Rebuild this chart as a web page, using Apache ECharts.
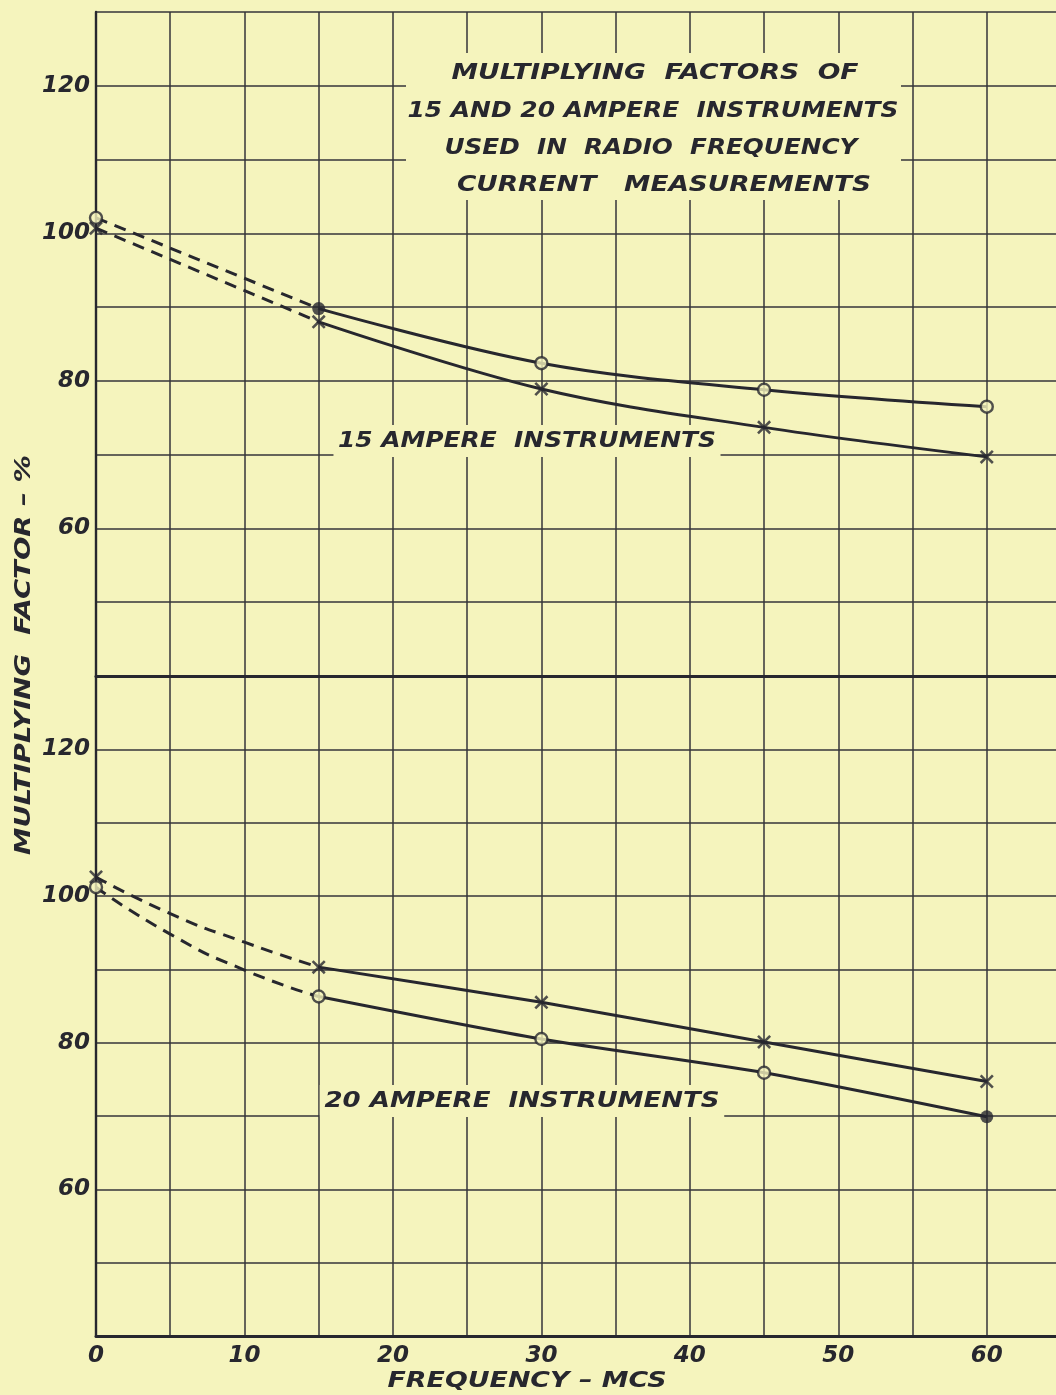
<!DOCTYPE html>
<html>
<head>
<meta charset="utf-8">
<script src="https://cdn.jsdelivr.net/npm/echarts@6/dist/echarts.min.js"></script>
<style>
  html, body { margin: 0; padding: 0; background: #f5f4bd; }
  #chart { width: 1056px; height: 1395px; }
</style>
</head>
<body>
<div id="chart"></div>
<script>
// Frequencies (Mc/s) at which the instruments were measured
const freqMeasured = [15, 30, 45, 60];
// Extrapolated region down to zero frequency
const freqLow = [0, 15];
const freqLowCurve = [0, 5, 10, 15];

// 15 ampere instruments (percent)
const amp15CircleLow = [102.1, 89.8];
const amp15Circle = [89.8, 82.4, 78.8, 76.5];
const amp15CrossLow = [100.7, 88.0];
const amp15Cross = [88.0, 78.9, 73.7, 69.7];

// 20 ampere instruments (percent)
const amp20CrossLow = [102.6, 97.6, 93.7, 90.3];
const amp20Cross = [90.3, 85.5, 80.1, 74.7];
const amp20CircleLow = [101.2, 94.8, 89.9, 86.3];
const amp20Circle = [86.3, 80.5, 75.9, 69.9];

// Labelled ticks
const yTickLabels = [60, 80, 100, 120];
const xTickLabels = [0, 10, 20, 30, 40, 50, 60];

// Text
const titleLines = [
  'MULTIPLYING  FACTORS  OF',
  '15 AND 20 AMPERE  INSTRUMENTS',
  'USED  IN  RADIO  FREQUENCY',
  'CURRENT   MEASUREMENTS'
];
const label15 = '15 AMPERE  INSTRUMENTS';
const label20 = '20 AMPERE  INSTRUMENTS';
const yName = 'MULTIPLYING  FACTOR – %';
const xName = 'FREQUENCY – MCS';

const PAPER = '#f5f4bd';
const INK = '#27272e';
const GRIDINK = '#34343a';
const FONT = '"DejaVu Sans", "Liberation Sans", sans-serif';

const chart = echarts.init(document.getElementById('chart'), null, { renderer: 'canvas' });

const pairs = (xs, ys) => xs.map((x, i) => [x, ys[i]]);

// Measure a string so lettering can be stretched to a given width
const measureCtx = document.createElement('canvas').getContext('2d');
function stretchFor(text, size, target) {
  measureCtx.font = 'italic bold ' + size + 'px ' + FONT;
  return target / measureCtx.measureText(text).width;
}

const crossPath = 'path://M0,1.3 L1.3,0 L5,3.7 L8.7,0 L10,1.3 L6.3,5 L10,8.7 L8.7,10 L5,6.3 L1.3,10 L0,8.7 L3.7,5 Z';

function yAxis(gridIndex) {
  return {
    type: 'value', gridIndex, min: 40, max: 130, interval: 10,
    axisLine: { show: true, lineStyle: { color: INK, width: 2.4 } },
    axisTick: { show: false },
    splitLine: { show: true, lineStyle: { color: GRIDINK, width: 1.5 } },
    axisLabel: {
      margin: 6, color: INK, fontSize: 23, fontStyle: 'italic', fontWeight: 'bold', fontFamily: FONT,
      formatter: v => (yTickLabels.includes(v) ? String(v) : '')
    }
  };
}
function xAxis(gridIndex, showLabels) {
  return {
    type: 'value', gridIndex, min: 0, max: 65, interval: 5,
    axisLine: { show: true, onZero: false, lineStyle: { color: INK, width: 3 } },
    axisTick: { show: false },
    splitLine: { show: true, lineStyle: { color: GRIDINK, width: 1.5 } },
    axisLabel: {
      show: showLabels, margin: 9, color: INK, fontSize: 23, fontStyle: 'italic', fontWeight: 'bold', fontFamily: FONT,
      formatter: v => (xTickLabels.includes(v) ? String(v) : '')
    }
  };
}

function curve(idx, data, dashed, smooth) {
  return {
    type: 'line', xAxisIndex: idx, yAxisIndex: idx, data,
    symbol: 'none', smooth: smooth, z: 5,
    lineStyle: { color: INK, width: 3, type: dashed ? [12, 8] : 'solid' }
  };
}
function markers(idx, data, kind) {
  const base = { type: 'scatter', xAxisIndex: idx, yAxisIndex: idx, data, z: 6 };
  if (kind === 'hollow') {
    return Object.assign(base, { symbol: 'circle', symbolSize: 12,
      itemStyle: { color: PAPER, borderColor: INK, borderWidth: 2.4 } });
  }
  if (kind === 'dot') {
    return Object.assign(base, { symbol: 'circle', symbolSize: 13, itemStyle: { color: INK } });
  }
  return Object.assign(base, { symbol: crossPath, symbolSize: 14, itemStyle: { color: INK } });
}

const top15Circles = pairs([0].concat(freqMeasured), [amp15CircleLow[0]].concat(amp15Circle));
const top15Crosses = pairs([0].concat(freqMeasured), [amp15CrossLow[0]].concat(amp15Cross));
const bot20Circles = pairs([0].concat(freqMeasured), [amp20CircleLow[0]].concat(amp20Circle));
const bot20Crosses = pairs([0].concat(freqMeasured), [amp20CrossLow[0]].concat(amp20Cross));

function textEl(text, cx, cy, size, width, boxed) {
  const style = {
    text, fill: INK, font: 'italic bold ' + size + 'px ' + FONT,
    align: 'center', verticalAlign: 'middle'
  };
  if (boxed) {
    style.backgroundColor = PAPER;
    style.padding = [5, 4];
  }
  return {
    type: 'text', x: cx, y: cy, z: 100,
    scaleX: stretchFor(text, size, width), scaleY: 1, style
  };
}

const titleY = [73, 111, 148, 185];
const titleX = [655, 653, 651, 664];
const titleW = [407, 491, 413, 414];

const graphics = [
  { type: 'rect', z: 90, shape: { x: 406, y: 53, width: 495, height: 147 }, style: { fill: PAPER } }
];
titleLines.forEach((t, i) => graphics.push(textEl(t, titleX[i], titleY[i], 22, titleW[i], false)));
graphics.push(textEl(label15, 527, 441, 22, 378, true));
graphics.push(textEl(label20, 522, 1101, 22, 395, true));
graphics.push(Object.assign(textEl(yName, 25, 655, 21, 400, false), { rotation: Math.PI / 2 }));
graphics.push(textEl(xName, 527, 1382, 21, 279, false));

chart.setOption({
  backgroundColor: PAPER,
  animation: false,
  grid: [
    { left: 96, top: 12, width: 965, height: 664, outerBoundsMode: 'none' },
    { left: 96, top: 676, width: 965, height: 660, outerBoundsMode: 'none' }
  ],
  xAxis: [xAxis(0, false), xAxis(1, true)],
  yAxis: [yAxis(0), yAxis(1)],
  series: [
    curve(0, pairs(freqMeasured, amp15Circle), false, 0.35),
    curve(0, pairs(freqLow, amp15CircleLow), true, false),
    curve(0, pairs(freqMeasured, amp15Cross), false, 0.35),
    curve(0, pairs(freqLow, amp15CrossLow), true, false),
    markers(0, top15Circles.filter(p => p[0] !== 15), 'hollow'),
    markers(0, top15Circles.filter(p => p[0] === 15), 'dot'),
    markers(0, top15Crosses, 'cross'),

    curve(1, pairs(freqMeasured, amp20Cross), false, 0.25),
    curve(1, pairs(freqLowCurve, amp20CrossLow), true, 0.6),
    curve(1, pairs(freqMeasured, amp20Circle), false, 0.25),
    curve(1, pairs(freqLowCurve, amp20CircleLow), true, 0.6),
    markers(1, bot20Circles.filter(p => p[0] !== 60), 'hollow'),
    markers(1, bot20Circles.filter(p => p[0] === 60), 'dot'),
    markers(1, bot20Crosses, 'cross')
  ],
  graphic: graphics
});
</script>
</body>
</html>
